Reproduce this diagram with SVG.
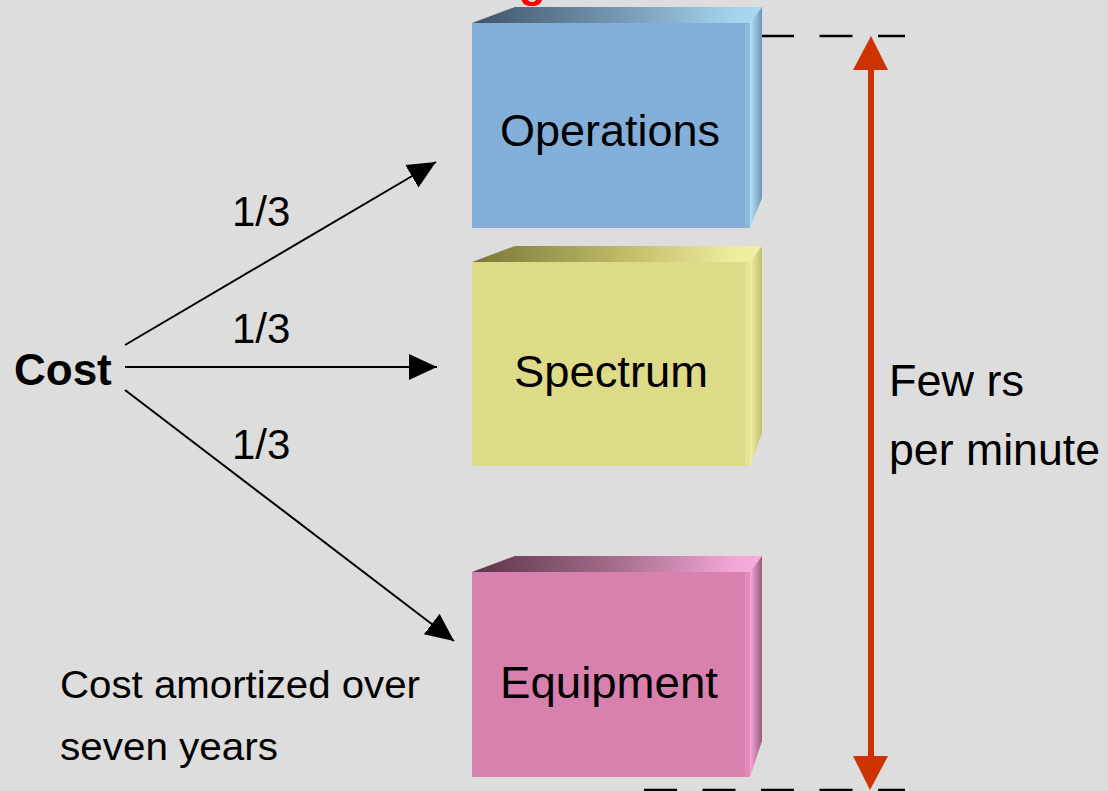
<svg xmlns="http://www.w3.org/2000/svg" width="1108" height="791" viewBox="0 0 1108 791">
  <style>
    .lbl { font-family: "Liberation Sans", Arial, sans-serif; fill: #000; }
    .big { font-size: 44px; }
    .mid { font-size: 42px; }
    .note { font-size: 38px; }
    .conn { stroke: #000; stroke-width: 2; fill: none; }
    .dash { stroke: #000; stroke-width: 2.5; stroke-dasharray: 33 25.5; fill: none; }
  </style>
  <defs>
    <marker id="arrow" markerUnits="userSpaceOnUse" markerWidth="30" markerHeight="30" viewBox="0 0 30 30" refX="28" refY="15" orient="auto">
      <path d="M0,2 L28,15 L0,28 Z" fill="#000"/>
    </marker>
    <!-- blue box shading -->
    <linearGradient id="blueTop" x1="0" y1="0" x2="1" y2="0">
      <stop offset="0" stop-color="#3f5367"/>
      <stop offset="0.5" stop-color="#7597b3"/>
      <stop offset="0.9" stop-color="#a3d3ec"/>
      <stop offset="1" stop-color="#a8daf2"/>
    </linearGradient>
    <linearGradient id="blueSide" x1="0" y1="0" x2="1" y2="0">
      <stop offset="0" stop-color="#b5e3f8"/>
      <stop offset="1" stop-color="#6f94b8"/>
    </linearGradient>
    <!-- yellow box shading -->
    <linearGradient id="yellowTop" x1="0" y1="0" x2="1" y2="0">
      <stop offset="0" stop-color="#7a7638"/>
      <stop offset="0.5" stop-color="#bcb865"/>
      <stop offset="0.9" stop-color="#eeeb9c"/>
      <stop offset="1" stop-color="#f3f0a4"/>
    </linearGradient>
    <linearGradient id="yellowSide" x1="0" y1="0" x2="1" y2="0">
      <stop offset="0" stop-color="#f2efa6"/>
      <stop offset="1" stop-color="#c2be6c"/>
    </linearGradient>
    <!-- pink box shading -->
    <linearGradient id="pinkTop" x1="0" y1="0" x2="1" y2="0">
      <stop offset="0" stop-color="#5c3449"/>
      <stop offset="0.5" stop-color="#a66d8c"/>
      <stop offset="0.9" stop-color="#f2a6d6"/>
      <stop offset="1" stop-color="#f6aedc"/>
    </linearGradient>
    <linearGradient id="pinkSide" x1="0" y1="0" x2="1" y2="0">
      <stop offset="0" stop-color="#f4aadb"/>
      <stop offset="1" stop-color="#9c5a7e"/>
    </linearGradient>
  </defs>

  <rect width="1108" height="791" fill="#dddddd"/>

  <!-- title text running off the top edge -->
  <text x="519" y="-3" class="lbl" font-size="44" font-weight="bold" style="fill:#ff0000">g</text>

  <!-- dashed level markers -->
  <line class="dash" x1="644" y1="36" x2="905" y2="36"/>
  <line class="dash" x1="644" y1="790" x2="905" y2="790"/>

  <g id="node-operations">
    <polygon points="472,23 515,7 762,7 750,23" fill="url(#blueTop)"/>
    <polygon points="750,23 762,7 762,198 750,228" fill="url(#blueSide)"/>
    <rect x="472" y="23" width="278" height="205" fill="#84afd9"/>
    <rect x="745" y="23" width="5" height="205" fill="#8fbde6" opacity="0.7"/>
    <text x="500" y="146" class="lbl big" textLength="220" lengthAdjust="spacingAndGlyphs">Operations</text>
  </g>

  <g id="node-spectrum">
    <polygon points="472,262 515,246 762,246 750,262" fill="url(#yellowTop)"/>
    <polygon points="750,262 762,246 762,433 750,466" fill="url(#yellowSide)"/>
    <rect x="472" y="262" width="278" height="204" fill="#dddA88"/>
    <rect x="745" y="262" width="5" height="204" fill="#e8e596" opacity="0.7"/>
    <text x="514" y="387" class="lbl big" textLength="194" lengthAdjust="spacingAndGlyphs">Spectrum</text>
  </g>

  <g id="node-equipment">
    <polygon points="472,572 515,556 762,556 750,572" fill="url(#pinkTop)"/>
    <polygon points="750,572 762,556 762,741 750,777" fill="url(#pinkSide)"/>
    <rect x="472" y="572" width="278" height="205" fill="#d981ae"/>
    <rect x="745" y="572" width="5" height="205" fill="#e690bd" opacity="0.7"/>
    <text x="500" y="698" class="lbl big" textLength="218" lengthAdjust="spacingAndGlyphs">Equipment</text>
  </g>

  <g id="node-cost">
    <text x="14" y="385" class="lbl big" font-weight="bold">Cost</text>
  </g>

  <g id="connectors">
    <line class="conn" x1="125" y1="345" x2="436" y2="162" marker-end="url(#arrow)"/>
    <line class="conn" x1="125" y1="367" x2="437" y2="367" marker-end="url(#arrow)"/>
    <line class="conn" x1="125" y1="390" x2="454" y2="641" marker-end="url(#arrow)"/>
    <!-- red span arrow -->
    <rect x="868" y="68" width="6" height="690" fill="#cc3300"/>
    <polygon points="871,36 853,70 888,70" fill="#cc3300"/>
    <polygon points="870,790 853,756 888,756" fill="#cc3300"/>
  </g>

  <g id="labels">
    <text x="232" y="226" class="lbl mid">1/3</text>
    <text x="232" y="343" class="lbl mid">1/3</text>
    <text x="232" y="459" class="lbl mid">1/3</text>
    <text x="60" y="698" class="lbl note" textLength="360" lengthAdjust="spacingAndGlyphs">Cost amortized over</text>
    <text x="60" y="760" class="lbl note" textLength="218" lengthAdjust="spacingAndGlyphs">seven years</text>
    <text x="889" y="396" class="lbl big" textLength="135" lengthAdjust="spacingAndGlyphs">Few rs</text>
    <text x="889" y="465" class="lbl big" textLength="211" lengthAdjust="spacingAndGlyphs">per minute</text>
  </g>
</svg>
